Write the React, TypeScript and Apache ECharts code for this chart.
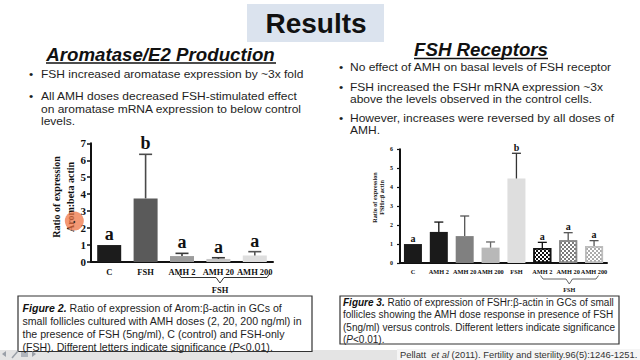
import React, { useEffect, useRef } from 'react';
import * as echarts from 'echarts';

// ---------- data ----------
const leftCategories = ['C', 'FSH', 'AMH 2', 'AMH 20', 'AMH 200'];
const leftValues = [1.0, 3.75, 0.35, 0.18, 0.39];
const leftErrors = [0, 2.6, 0.16, 0.07, 0.22];
const leftLetters = ['a', 'b', 'a', 'a', 'a'];

const rightCategories = ['C', 'AMH 2', 'AMH 20', 'AMH 200', 'FSH', 'AMH 2', 'AMH 20', 'AMH 200'];
const rightValues = [1.0, 1.64, 1.42, 0.81, 4.46, 0.79, 1.2, 0.9];
const rightErrors = [0, 0.52, 1.06, 0.3, 1.33, 0.3, 0.4, 0.28];
const rightLetters = ['a', '', '', '', 'b', 'a', 'a', 'a'];

// ---------- styles ----------
const SANS = "'Liberation Sans', Arial, sans-serif";
const SERIF = "'Liberation Serif', 'Times New Roman', serif";
const leftColors = ['#1c1c1c', '#5a5a5a', '#9c9c9c', '#c6c6c6', '#dedede'];
const leftErrColors = ['#1c1c1c', '#4a4a4a', '#3a3a3a', '#3a3a3a', '#555555'];
const rightColors = ['#1a1a1a', '#1a1a1a', '#808080', '#b8b8b8', '#dedede', '#ffffff', '#ffffff', '#ffffff'];
const rightBorders = [null, null, null, null, null, '#111111', '#8a8a8a', '#bdbdbd'];
const rightDecals = [null, null, null, null, null, '#111111', '#7a7a7a', '#ababab'];
const rightErrColors = ['#111', '#111', '#555', '#666', '#333', '#111', '#555', '#555'];

function errorSeries(ax: number, values: number[], errors: number[], letters: string[], colors: string[], capHalf: number, font: string, gap: number, lw: number) {
  return {
    type: 'custom',
    xAxisIndex: ax,
    yAxisIndex: ax,
    silent: true,
    z: 5,
    data: values.map((v, i) => [i, v, v + errors[i]]),
    renderItem: (params: any, api: any) => {
      const i = api.value(0);
      const base = api.coord([i, api.value(1)]);
      const top = api.coord([i, api.value(2)]);
      const children: any[] = [];
      if (errors[i] > 0) {
        children.push({ type: 'line', shape: { x1: top[0], y1: base[1], x2: top[0], y2: top[1] }, style: { stroke: colors[i], lineWidth: lw } });
        children.push({ type: 'line', shape: { x1: top[0] - capHalf, y1: top[1], x2: top[0] + capHalf, y2: top[1] }, style: { stroke: colors[i], lineWidth: lw } });
      }
      if (letters[i]) {
        children.push({ type: 'text', x: top[0], y: top[1] - gap, style: { text: letters[i], font, fill: '#111', align: 'center', verticalAlign: 'bottom', textAlign: 'center', textVerticalAlign: 'bottom' } });
      }
      return { type: 'group', children };
    },
  };
}

function txt(text: string, x: number, y: number, font: string, extra: any = {}, el: any = {}) {
  return {
    type: 'text', x, y, silent: true, z: 10, ...el,
    style: { text, font, fill: '#1e1e1e', align: 'left', verticalAlign: 'middle', textAlign: 'left', textVerticalAlign: 'middle', ...extra },
  };
}

// multi-line block: y is the centre of its first line
function block(lines: string[], x: number, y: number, font: string, lh: number, extra: any = {}, el: any = {}) {
  return txt(lines.join('\n'), x, y - lh / 2, font, { verticalAlign: 'top', textVerticalAlign: 'top', lineHeight: lh, ...extra }, el);
}

export default function App() {
  const ref = useRef<HTMLDivElement>(null);
  useEffect(() => {
    if (!ref.current) return;
    const chart = echarts.init(ref.current, null, { renderer: 'svg' });
    const bullet = `10.4px ${SANS}`;
    const wide = { scaleX: 1.155 };
    const cap = (s: number, lh: number) => ({
      b: { font: `italic bold ${s}px ${SANS}`, fill: '#111', lineHeight: lh },
      i: { font: `italic ${s}px ${SANS}`, fill: '#1e1e1e', lineHeight: lh },
      n: { font: `${s}px ${SANS}`, fill: '#1e1e1e', lineHeight: lh },
    });
    const option: any = {
      animation: false,
      backgroundColor: '#ffffff',
      grid: [
        { left: 91, right: 367, top: 143.3, bottom: 98, containLabel: false },
        { left: 400, right: 33, top: 149.3, bottom: 97, containLabel: false },
      ],
      xAxis: [
        {
          type: 'category', gridIndex: 0, data: leftCategories,
          axisLine: { lineStyle: { color: '#111', width: 2 } },
          axisTick: { alignWithLabel: true, length: 4, lineStyle: { color: '#111', width: 1.5 } },
          axisLabel: { interval: 0, hideOverlap: false, margin: 5, fontFamily: SERIF, fontWeight: 'bold', fontSize: 8.5, color: '#111' },
        },
        {
          type: 'category', gridIndex: 1, data: rightCategories,
          axisLine: { lineStyle: { color: '#111', width: 2 } },
          axisTick: { alignWithLabel: true, length: 3, lineStyle: { color: '#111', width: 1.2 } },
          axisLabel: { interval: 0, hideOverlap: false, margin: 5, fontFamily: SERIF, fontWeight: 'bold', fontSize: 6.3, color: '#111' },
        },
      ],
      yAxis: [
        {
          type: 'value', gridIndex: 0, min: 0, max: 7, interval: 1,
          axisLine: { show: true, lineStyle: { color: '#111', width: 2 } },
          axisTick: { show: true, length: 4, lineStyle: { color: '#111', width: 1.5 } },
          splitLine: { show: false },
          axisLabel: { margin: 5, fontFamily: SERIF, fontWeight: 'bold', fontSize: 11, color: '#111' },
        },
        {
          type: 'value', gridIndex: 1, min: 0, max: 6, interval: 1,
          axisLine: { show: true, lineStyle: { color: '#111', width: 2 } },
          axisTick: { show: true, length: 3, lineStyle: { color: '#111', width: 1.2 } },
          splitLine: { show: false },
          axisLabel: { margin: 7, fontFamily: SERIF, fontWeight: 'bold', fontSize: 6, color: '#111' },
        },
      ],
      series: [
        {
          type: 'bar', xAxisIndex: 0, yAxisIndex: 0, barWidth: 24, silent: true,
          data: leftValues.map((v, i) => ({ value: v, itemStyle: { color: leftColors[i] } })),
        },
        {
          type: 'bar', xAxisIndex: 1, yAxisIndex: 1, barWidth: 18, silent: true,
          data: rightValues.map((v, i) => ({
            value: v,
            itemStyle: {
              color: rightColors[i],
              borderColor: rightBorders[i] || rightColors[i],
              borderWidth: rightBorders[i] ? 1.5 : 0,
              decal: rightDecals[i]
                ? { symbol: 'rect', symbolSize: 1, color: rightDecals[i], dashArrayX: [[2, 2], [0, 2, 2, 0]], dashArrayY: [2, 0], rotation: 0 }
                : 'none',
            },
          })),
        },
        errorSeries(0, leftValues, leftErrors, leftLetters, leftErrColors, 6.5, `bold 18px ${SERIF}`, 2, 1.6),
        errorSeries(1, rightValues, rightErrors, rightLetters, rightErrColors, 4.5, `bold 10px ${SERIF}`, 1, 1.3),
      ],
      graphic: [
        // title box
        { type: 'rect', silent: true, shape: { x: 247, y: 4, width: 137, height: 38 }, style: { fill: '#dbe3ee' } },
        txt('Results', 316, 23, `bold 28px ${SANS}`, { align: 'center', textAlign: 'center', fill: '#111' }),
        // headers
        txt('Aromatase/E2 Production', 160.5, 54, `italic bold 18.7px ${SANS}`, { align: 'center', textAlign: 'center', fill: '#111' }),
        { type: 'line', silent: true, shape: { x1: 46, y1: 63, x2: 276, y2: 63 }, style: { stroke: '#111', lineWidth: 1.5 } },
        txt('FSH Receptors', 481, 49, `italic bold 18.7px ${SANS}`, { align: 'center', textAlign: 'center', fill: '#111' }),
        { type: 'line', silent: true, shape: { x1: 414, y1: 58.5, x2: 548, y2: 58.5 }, style: { stroke: '#111', lineWidth: 1.5 } },
        // left bullets
        txt('•', 29, 74.7, bullet, {}, wide),
        txt('FSH increased aromatase expression by ~3x fold', 41, 74.7, bullet, {}, wide),
        txt('•', 29, 96.7, bullet, {}, wide),
        block(['All AMH doses decreased FSH-stimulated effect', 'on aromatase mRNA expression to below control', 'levels.'], 41, 96.7, bullet, 12.2, {}, wide),
        // right bullets
        txt('•', 339, 67.7, bullet, {}, wide),
        txt('No effect of AMH on basal levels of FSH receptor', 350, 67.7, bullet, {}, wide),
        txt('•', 339, 87.5, bullet, {}, wide),
        block(['FSH increased the FSHr mRNA expression ~3x', 'above the levels observed in the control cells.'], 350, 87.5, bullet, 12, {}, wide),
        txt('•', 339, 118.7, bullet, {}, wide),
        block(['However, increases were reversed by all doses of', 'AMH.'], 350, 118.7, bullet, 12, {}, wide),
        // y axis names
        { type: 'text', silent: true, x: 63.7, y: 197, rotation: Math.PI / 2, style: { text: 'Ratio of expression\nArom:beta actin', font: `bold 10px ${SERIF}`, fill: '#111', align: 'center', verticalAlign: 'middle', textAlign: 'center', textVerticalAlign: 'middle', lineHeight: 14 } },
        { type: 'text', silent: true, x: 378, y: 197.5, rotation: Math.PI / 2, style: { text: 'Ratio of expression\nFSHr:β actin', font: `bold 6.2px ${SERIF}`, fill: '#111', align: 'center', verticalAlign: 'middle', textAlign: 'center', textVerticalAlign: 'middle', lineHeight: 7.2 } },
        // orange pointer highlight
        { type: 'circle', silent: true, z: 20, shape: { cx: 74.3, cy: 221, r: 9.5 }, style: { fill: 'rgba(238,112,62,0.72)' } },
        { type: 'circle', silent: true, z: 21, shape: { cx: 74.3, cy: 222, r: 1 }, style: { fill: '#333' } },
        // brackets
        { type: 'polyline', silent: true, shape: { points: [[178, 273], [181, 277.5], [216, 277.5], [220, 283], [224, 277.5], [267, 277.5], [270, 273]] }, style: { stroke: '#333', lineWidth: 1, fill: 'none' } },
        txt('FSH', 220, 290, `bold 8.5px ${SERIF}`, { align: 'center', textAlign: 'center', fill: '#111' }),
        { type: 'polyline', silent: true, shape: { points: [[540.5, 275.5], [543, 279], [566, 279], [569.3, 284], [572.5, 279], [596, 279], [598.5, 275.5]] }, style: { stroke: '#555', lineWidth: 0.9, fill: 'none' } },
        txt('FSH', 569.3, 289.5, `bold 6.2px ${SERIF}`, { align: 'center', textAlign: 'center', fill: '#111' }),
        // footer band
        { type: 'rect', silent: true, z: 1, shape: { x: 0, y: 350, width: 640, height: 10 }, style: { fill: '#e4e4e4' } },
        { type: 'rect', silent: true, z: 2, shape: { x: 397, y: 349, width: 243, height: 11 }, style: { fill: '#f5f5f5' } },
        // caption boxes
        { type: 'rect', silent: true, z: 8, shape: { x: 18, y: 296, width: 294, height: 55.5 }, style: { fill: '#ffffff', stroke: '#333', lineWidth: 1.2 } },
        block([
          '{b|Figure 2.}{n| Ratio of expression of Arom:β-actin in GCs of}',
          '{n|small follicles cultured with AMH doses (2, 20, 200 ng/ml) in}',
          '{n|the presence of FSH (5ng/ml), C (control) and FSH-only}',
          '{n|(FSH). Different letters indicate significance (}{i|P}{n|<0.01).}',
        ], 22.5, 307.7, `10.6px ${SANS}`, 13, { rich: cap(10.6, 13) }),
        { type: 'rect', silent: true, z: 8, shape: { x: 340, y: 296, width: 279, height: 48 }, style: { fill: '#ffffff', stroke: '#333', lineWidth: 1.2 } },
        block([
          '{b|Figure 3.}{n| Ratio of expression of FSHr:β-actin in GCs of small}',
          '{n|follicles showing the AMH dose response in presence of FSH}',
          '{n|(5ng/ml) versus controls. Different letters indicate significance}',
          '{n|(}{i|P}{n|<0.01).}',
        ], 343, 302.6, `10px ${SANS}`, 12.2, { rich: cap(10, 12.2) }),
        // footer
        txt('{n|Pellatt  }{i|et al}{n| (2011). Fertility and sterility.96(5):1246-1251.}', 400, 354.3, `9.4px ${SANS}`, { rich: { n: { font: `9.4px ${SANS}`, fill: '#333' }, i: { font: `italic 9.4px ${SANS}`, fill: '#333' } } }),
        // nav icons
        { type: 'polygon', silent: true, z: 9, shape: { points: [[2, 354], [6, 351], [6, 357]] }, style: { fill: '#9aa0a8' } },
        { type: 'line', silent: true, z: 9, shape: { x1: 12, y1: 358, x2: 18, y2: 351 }, style: { stroke: '#9aa0a8', lineWidth: 1.5 } },
        { type: 'rect', silent: true, z: 9, shape: { x: 21, y: 352, width: 7, height: 5 }, style: { fill: '#b0b5bc' } },
        { type: 'polygon', silent: true, z: 9, shape: { points: [[36, 354], [32, 351], [32, 357]] }, style: { fill: '#9aa0a8' } },
      ],
    };
    chart.setOption(option);
    return () => chart.dispose();
  }, []);
  return <div ref={ref} style={{ position: 'fixed', left: 0, top: 0, width: 640, height: 360 }} />;
}
